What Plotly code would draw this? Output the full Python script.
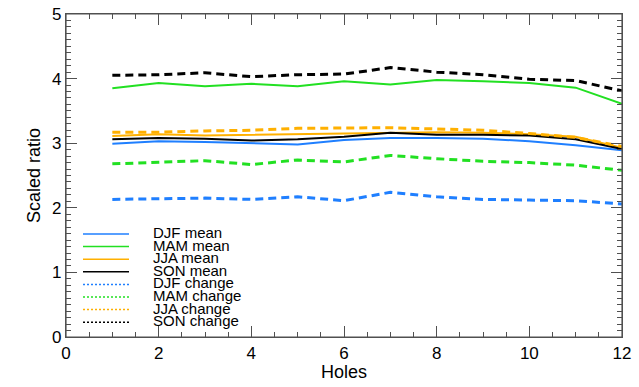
import plotly.graph_objects as go

holes = list(range(1, 13))

djf_mean = [2.99, 3.03, 3.02, 3.00, 2.98, 3.05, 3.08, 3.08, 3.07, 3.03, 2.97, 2.89]
mam_mean = [3.85, 3.93, 3.88, 3.92, 3.88, 3.96, 3.91, 3.98, 3.96, 3.93, 3.86, 3.61]
jja_mean = [3.11, 3.14, 3.12, 3.13, 3.14, 3.16, 3.17, 3.17, 3.16, 3.14, 3.10, 2.93]
son_mean = [3.06, 3.08, 3.07, 3.04, 3.06, 3.10, 3.16, 3.13, 3.13, 3.12, 3.06, 2.91]
djf_change = [2.13, 2.14, 2.15, 2.13, 2.17, 2.11, 2.24, 2.17, 2.13, 2.12, 2.11, 2.06]
mam_change = [2.68, 2.70, 2.73, 2.67, 2.74, 2.71, 2.81, 2.76, 2.72, 2.70, 2.66, 2.58]
jja_change = [3.17, 3.17, 3.19, 3.20, 3.23, 3.23, 3.24, 3.22, 3.20, 3.15, 3.09, 2.95]
son_change = [4.05, 4.06, 4.09, 4.03, 4.06, 4.07, 4.17, 4.10, 4.06, 3.99, 3.97, 3.81]

names = ["DJF mean", "MAM mean", "JJA mean", "SON mean",
         "DJF change", "MAM change", "JJA change", "SON change"]
series = [djf_mean, mam_mean, jja_mean, son_mean,
          djf_change, mam_change, jja_change, son_change]
colors = ["#1f7fff", "#22e022", "#ffb000", "#000000"] * 2
is_dash = [False] * 4 + [True] * 4

x_range = [0, 12]
y_range = [0, 5]

FONT = "Liberation Sans, Arial, sans-serif"
AX = "#505050"

fig = go.Figure()
for name, ys, c, d in zip(names, series, colors, is_dash):
    fig.add_trace(go.Scatter(
        x=holes, y=ys, mode="lines", name=name, showlegend=False,
        line=dict(color=c, width=3 if d else 2, dash="8px,5px" if d else "solid"),
    ))

# axis box outline, following the axis ranges
fig.add_trace(go.Scatter(
    x=[x_range[0], x_range[1], x_range[1], x_range[0], x_range[0]],
    y=[y_range[0], y_range[0], y_range[1], y_range[1], y_range[0]],
    mode="lines", line=dict(color=AX, width=1.2), cliponaxis=False,
    hoverinfo="skip", showlegend=False,
))

# manual legend (tight spacing as in reference)
L, R, T, B = 66, 17, 14, 50
W, H = 639 - L - R, 387 - T - B
row0, rowgap = 234, 12.6
shapes, annots = [], []
for i, (name, c, d) in enumerate(zip(names, colors, is_dash)):
    ypx = row0 + i * rowgap
    yp = (387 - B - ypx) / H
    shapes.append(dict(type="line", xref="paper", yref="paper",
                       x0=(83 - L) / W, x1=(129 - L) / W, y0=yp, y1=yp,
                       line=dict(color=c, width=1.5, dash="2px,2px" if d else "solid")))
    annots.append(dict(xref="paper", yref="paper", x=(151 - L) / W, y=yp + 1.5 / H,
                       text=name, showarrow=False, xanchor="left", yanchor="middle",
                       font=dict(family=FONT, size=15, color="#000000")))

axis_common = dict(
    showline=True, linecolor=AX, linewidth=1.2, mirror="allticks",
    ticks="inside", ticklen=11, tickcolor=AX, tickwidth=1.2,
    showgrid=False, zeroline=False, automargin=False,
    tickfont=dict(family=FONT, size=17, color="#000000"),
)

fig.update_layout(
    width=639, height=387,
    margin=dict(l=L, r=R, t=T, b=B),
    plot_bgcolor="#ffffff", paper_bgcolor="#ffffff",
    showlegend=False,
    shapes=shapes, annotations=annots,
    xaxis=dict(range=x_range, dtick=2, tick0=0,
               minor=dict(dtick=0.5, ticks="inside", ticklen=5, tickcolor=AX, tickwidth=1.2),
               title=dict(text="Holes", font=dict(family=FONT, size=18, color="#000000"), standoff=2),
               **axis_common),
    yaxis=dict(range=y_range, dtick=1, tick0=0,
               minor=dict(dtick=0.1, ticks="inside", ticklen=5, tickcolor=AX, tickwidth=1.2),
               title=dict(text="Scaled ratio", font=dict(family=FONT, size=18, color="#000000"), standoff=6),
               **axis_common),
)

fig.write_html("out.html", config={"displayModeBar": False},
               post_script="document.body.style.margin='0';document.body.style.overflow='hidden';")
